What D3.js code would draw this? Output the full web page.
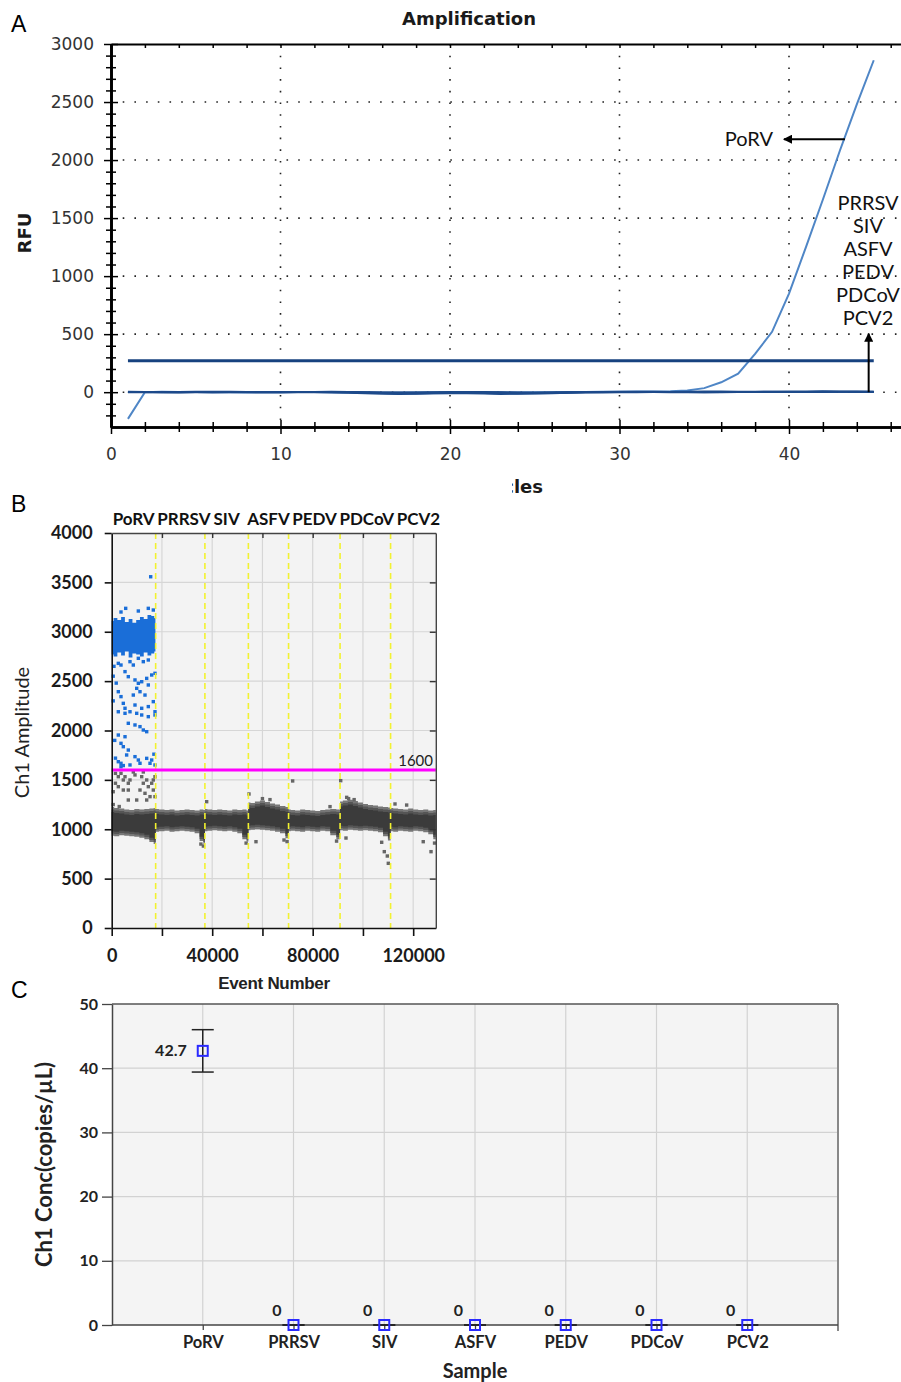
<!DOCTYPE html>
<html>
<head>
<meta charset="utf-8">
<script src="https://cdn.jsdelivr.net/npm/d3@7"></script>
<style>
  body { margin: 0; background: #fff; }
  svg { display: block; }
</style>
</head>
<body>
<svg id="fig" width="901" height="1382"></svg>
<script>
// ---------- Panel A: qPCR amplification ----------
const cycles = d3.range(1, 46);
const poRVRfu = [-230, 0, 3, 2, 1, 0, -1, -2, -1, 0, 1, 2, 0, -2, -4, -6, -5, -3, -2, -4, -6, -5, -3, -2, -1,
  0, 1, 2, 3, 4, 5, 6, 8, 15, 35, 85, 160, 330, 520, 850, 1250, 1660, 2080, 2480, 2860];
const negRfu = [
  [0, 2, 3, 1, 0, -2, -3, -1, 0, 2, 4, 3, 1, -1, -4, -8, -10, -9, -6, -3, -2, -4, -7, -9, -8, -5, -2, 0, 1, 2, 3, 2, 0, -1, -2, -3, -1, 1, 2, 3, 4, 5, 4, 3, 2],
  [0, 1, -1, -2, -1, 0, 1, 2, 1, 0, -1, -3, -5, -7, -12, -16, -18, -15, -10, -8, -11, -14, -17, -15, -12, -8, -6, -3, -1, 0, 1, 2, 1, 0, -1, 0, 1, 2, 1, 0, -1, 0, 1, 2, 3],
  [5, 4, 3, 4, 5, 6, 5, 4, 3, 2, 3, 4, 5, 4, 2, 0, -2, -1, 1, 3, 4, 3, 1, -1, -3, -2, 0, 2, 4, 5, 6, 5, 4, 6, 8, 7, 6, 5, 6, 7, 8, 9, 8, 7, 6],
  [-3, -2, -4, -5, -3, -2, -1, -3, -5, -4, -2, 0, -1, -3, -6, -9, -12, -13, -11, -9, -7, -9, -12, -14, -13, -10, -7, -5, -4, -3, -2, -1, -2, -3, -2, -1, 0, 1, 0, -1, 0, 1, 2, 1, 0],
  [2, 3, 2, 1, 2, 3, 4, 3, 2, 1, 0, 1, 2, 3, 1, -1, -3, -4, -2, 0, 1, 0, -2, -4, -3, -1, 1, 2, 3, 4, 3, 2, 3, 4, 3, 2, 3, 4, 5, 4, 3, 4, 5, 6, 5]
];
const thresholdRfu = 270;
const rfuTicks = [0, 500, 1000, 1500, 2000, 2500, 3000];
const cycleTicks = [0, 10, 20, 30, 40];
const negLabels = ["PRRSV", "SIV", "ASFV", "PEDV", "PDCoV", "PCV2"];

// ---------- Panel B: ddPCR droplets ----------
const samples = ["PoRV", "PRRSV", "SIV", "ASFV", "PEDV", "PDCoV", "PCV2"];
const wellEdges = [0, 17500, 37100, 54400, 70400, 90900, 111000, 129000];
const bandX = [0, 2000, 4000, 6000, 8000, 10000, 12000, 14000, 16000, 17400,
  17600, 20000, 22000, 24000, 26000, 28000, 30000, 32000, 34000, 36000, 37000,
  37200, 39000, 41000, 43000, 45000, 47000, 49000, 51000, 53000, 54300,
  54500, 56000, 58000, 60000, 62000, 64000, 66000, 68000, 70300,
  70500, 72000, 74000, 76000, 78000, 80000, 82000, 84000, 86000, 88000, 90800,
  91000, 93000, 95000, 97000, 99000, 101000, 103000, 105000, 107000, 109000, 110900,
  111100, 113000, 115000, 117000, 119000, 121000, 123000, 125000, 127000, 129000];
const bandHi = [1225, 1215, 1210, 1200, 1195, 1205, 1200, 1205, 1210, 1215,
  1205, 1200, 1195, 1200, 1190, 1195, 1200, 1195, 1190, 1200, 1195,
  1205, 1200, 1195, 1200, 1195, 1190, 1200, 1195, 1200, 1190,
  1270, 1265, 1280, 1290, 1275, 1260, 1250, 1235, 1225,
  1200, 1195, 1190, 1200, 1195, 1190, 1185, 1195, 1200, 1205, 1200,
  1280, 1290, 1300, 1285, 1270, 1255, 1245, 1240, 1230, 1225, 1220,
  1215, 1210, 1205, 1200, 1210, 1200, 1195, 1200, 1190, 1195, 1200];
const bandLo = [935, 930, 940, 935, 930, 925, 915, 900, 870, 850,
  975, 980, 985, 975, 980, 985, 980, 975, 960, 880, 850,
  980, 985, 990, 985, 980, 985, 975, 960, 900, 875,
  990, 995, 1000, 995, 990, 985, 975, 960, 910,
  980, 985, 980, 975, 985, 980, 975, 985, 980, 940, 900,
  990, 985, 995, 990, 985, 990, 985, 980, 970, 930, 885,
  980, 975, 985, 980, 975, 985, 980, 970, 950, 900, 875];
const posX = [0, 1500, 3000, 4500, 6000, 7500, 9000, 10500, 12000, 13500, 15000, 16500, 17400];
const posHi = [3110, 3140, 3120, 3150, 3100, 3130, 3090, 3120, 3150, 3130, 3170, 3160, 3140];
const posLo = [2770, 2750, 2790, 2760, 2800, 2740, 2780, 2770, 2750, 2790, 2760, 2780, 2800];
const posDrops = [
  [15520, 3557], [5570, 3237], [14570, 3237], [3700, 3200], [10600, 3210], [16560, 3220],
  [2630, 2680], [3700, 2663], [7280, 2697], [8600, 2663], [10600, 2731], [12580, 2697], [14570, 2714],
  [5300, 2596], [6610, 2545], [9270, 2512], [10600, 2478], [11940, 2494], [13930, 2528], [15920, 2562], [17230, 2579],
  [9950, 2427], [11260, 2393], [14570, 2461], [13250, 2359], [8600, 2359], [2630, 2393], [3700, 2343],
  [5300, 2225], [7280, 2190], [9270, 2258], [11940, 2225], [14570, 2242], [16560, 2292], [17230, 2190], [4620, 2275],
  [2630, 2190], [5300, 2174], [9950, 2174], [11940, 2157], [14570, 2140], [17230, 2157],
  [6610, 2073], [9270, 2056], [11260, 2039], [12580, 2005], [13930, 1988],
  [2630, 1954], [5300, 1937], [3700, 1870], [4620, 1836], [6610, 1802], [5950, 1752], [9270, 1735],
  [10600, 1701], [13930, 1718], [15920, 1701], [2630, 1684], [3700, 1668], [7280, 1651], [11260, 1668],
  [15250, 1668], [17230, 1651], [3700, 1633], [4620, 1645], [1500, 1720], [1200, 1900], [600, 2300],
  [900, 2650], [16800, 1760], [600, 2550], [1800, 2480]
];
const negDrops = [
  [1500, 1566], [2630, 1532], [3700, 1566], [4620, 1499], [5300, 1532], [6610, 1466], [7280, 1499],
  [2630, 1431], [4620, 1397], [6610, 1397], [1500, 1466], [11940, 1532], [12580, 1466], [13930, 1499],
  [14570, 1431], [15920, 1466], [16560, 1397], [17230, 1532], [13250, 1364], [15250, 1330], [11260, 1397],
  [9950, 1296], [6610, 1296], [13930, 1296], [16560, 1499], [9270, 1550], [8600, 1580], [12580, 1580],
  [600, 1380], [600, 1250], [3000, 1230], [17230, 1330],
  [37800, 1279], [54650, 1357], [57430, 874], [68580, 891], [72030, 1489], [86900, 1229], [91150, 1492],
  [93530, 1323], [94300, 1310], [96500, 1300], [93250, 911], [107460, 868], [108500, 773], [109700, 729],
  [110100, 655], [112760, 1256], [117400, 1245], [124000, 874], [127100, 773], [36500, 830], [35500, 850],
  [53500, 860], [69800, 875], [89500, 880], [128500, 860], [63000, 1300], [60000, 1310]
];
const ampThreshold = 1600;
const ampTicks = [0, 500, 1000, 1500, 2000, 2500, 3000, 3500, 4000];
const eventTicks = [0, 20000, 40000, 60000, 80000, 100000, 120000];

// ---------- Panel C: concentration ----------
const conc = [42.7, 0, 0, 0, 0, 0, 0];
const concLo = [39.4, 0, 0, 0, 0, 0, 0];
const concHi = [46.0, 0, 0, 0, 0, 0, 0];
const concTicks = [0, 10, 20, 30, 40, 50];

const plain = d3.format("d");
const svg = d3.select("#fig");
svg.append("rect").attr("width", 901).attr("height", 1382).attr("fill", "#fff");

// panel letters
svg.selectAll("text.panel")
  .data([["A", 32], ["B", 512], ["C", 998]])
  .join("text")
  .attr("x", 11).attr("y", d => d[1])
  .attr("font-family", "Liberation Sans, Arial, sans-serif")
  .attr("font-size", 23)
  .text(d => d[0]);

// ================= Panel A =================
const xA = d3.scaleLinear().domain([0, 50]).range([111, 111 + 50 * 16.95]);
const yA = d3.scaleLinear().domain([-300, 3000]).range([427, 44]);
const gA = svg.append("g");

// dotted grid
gA.selectAll("line.vg").data([10, 20, 30, 40]).join("line")
  .attr("x1", d => xA(d)).attr("x2", d => xA(d)).attr("y1", 44).attr("y2", 427)
  .attr("stroke", "#222").attr("stroke-width", 1.6).attr("stroke-dasharray", "1.6,10.1");
gA.selectAll("line.hg").data(rfuTicks.filter(d => d < 3000)).join("line")
  .attr("x1", 111).attr("x2", 901).attr("y1", d => yA(d)).attr("y2", d => yA(d))
  .attr("stroke", "#222").attr("stroke-width", 1.6).attr("stroke-dasharray", "1.6,10.1");

const lineA = d3.line().x((d, i) => xA(cycles[i])).y(d => yA(d));
gA.append("path").datum(poRVRfu).attr("d", lineA)
  .attr("fill", "none").attr("stroke", "#4f86c6").attr("stroke-width", 2);
negRfu.forEach(s => {
  gA.append("path").datum(s).attr("d", lineA)
    .attr("fill", "none").attr("stroke", "#1d4a8a").attr("stroke-width", 1.6);
});
gA.append("line")
  .attr("x1", xA(cycles[0])).attr("x2", xA(cycles[cycles.length - 1]))
  .attr("y1", yA(thresholdRfu)).attr("y2", yA(thresholdRfu))
  .attr("stroke", "#17427f").attr("stroke-width", 3);

// axes (ticks crossing the axis line)
const minorY = d3.range(-200, 3000, 100).filter(v => v % 500 !== 0);
const minorX = d3.range(2, 50, 2).filter(v => v % 10 !== 0);
function styleAxis(g, w) {
  g.select(".domain").attr("stroke", "#000").attr("stroke-width", w);
  g.selectAll(".tick line").attr("stroke", "#000").attr("stroke-width", 1.5);
}
const yAout = gA.append("g").attr("transform", "translate(111,0)")
  .call(d3.axisLeft(yA).tickValues(rfuTicks).tickFormat(plain).tickSize(7).tickSizeOuter(0).tickPadding(10));
styleAxis(yAout, 2.2);
yAout.selectAll("text").attr("font-family", "DejaVu Sans, sans-serif").attr("font-size", 17).attr("fill", "#333");
[d3.axisRight(yA).tickValues(rfuTicks).tickSize(7),
 d3.axisLeft(yA).tickValues(minorY).tickSize(5),
 d3.axisRight(yA).tickValues(minorY).tickSize(5)].forEach(ax => {
  const g = gA.append("g").attr("transform", "translate(111,0)").call(ax.tickFormat("").tickSizeOuter(0));
  styleAxis(g, 2.2);
});
const xAout = gA.append("g").attr("transform", "translate(0,427)")
  .call(d3.axisBottom(xA).tickValues(cycleTicks).tickFormat(plain).tickSize(7).tickSizeOuter(0).tickPadding(14));
styleAxis(xAout, 2.2);
xAout.selectAll("text").attr("font-family", "DejaVu Sans, sans-serif").attr("font-size", 17).attr("fill", "#333");
[d3.axisTop(xA).tickValues(cycleTicks).tickSize(7),
 d3.axisBottom(xA).tickValues(minorX).tickSize(5),
 d3.axisTop(xA).tickValues(minorX).tickSize(5)].forEach(ax => {
  const g = gA.append("g").attr("transform", "translate(0,427)").call(ax.tickFormat("").tickSizeOuter(0));
  styleAxis(g, 2.2);
});
// top border with small inward ticks
const topA = gA.append("g").attr("transform", "translate(0,44)")
  .call(d3.axisBottom(xA).tickValues(d3.range(0, 50, 2)).tickSize(4).tickFormat("").tickSizeOuter(0));
styleAxis(topA, 2.2);

// labels
gA.append("text").attr("x", 469).attr("y", 25).attr("text-anchor", "middle")
  .attr("font-family", "DejaVu Sans, sans-serif").attr("font-weight", "bold").attr("font-size", 18)
  .attr("fill", "#1a1a1a").text("Amplification");
gA.append("text").attr("transform", "translate(31,233) rotate(-90)").attr("text-anchor", "middle")
  .attr("font-family", "DejaVu Sans, sans-serif").attr("font-weight", "bold").attr("font-size", 18)
  .attr("fill", "#1a1a1a").text("RFU");
svg.append("clipPath").attr("id", "cycClip").append("rect")
  .attr("x", 512).attr("y", 460).attr("width", 100).attr("height", 40);
gA.append("text").attr("x", 543).attr("y", 493).attr("text-anchor", "end")
  .attr("clip-path", "url(#cycClip)")
  .attr("font-family", "DejaVu Sans, sans-serif").attr("font-weight", "bold").attr("font-size", 18)
  .attr("fill", "#1a1a1a").text("Cycles");

// annotations
const annFont = "Lato, Carlito, sans-serif";
svg.append("defs").append("marker").attr("id", "arrowHead")
  .attr("viewBox", "0 0 10 10").attr("refX", 9).attr("refY", 5)
  .attr("markerWidth", 4.5).attr("markerHeight", 4.5).attr("orient", "auto")
  .append("path").attr("d", "M0,0 L10,5 L0,10 Z").attr("fill", "#000");
const arrowY = yA(2180);
gA.append("line").attr("x1", xA(43.3)).attr("x2", xA(39.7))
  .attr("y1", arrowY).attr("y2", arrowY)
  .attr("stroke", "#000").attr("stroke-width", 2).attr("marker-end", "url(#arrowHead)");
gA.append("text").attr("x", 773).attr("y", arrowY + 7).attr("text-anchor", "end")
  .attr("font-family", annFont).attr("font-size", 20).attr("fill", "#111").text("PoRV");
gA.append("line").attr("x1", xA(44.7)).attr("x2", xA(44.7))
  .attr("y1", yA(0)).attr("y2", yA(505))
  .attr("stroke", "#000").attr("stroke-width", 2).attr("marker-end", "url(#arrowHead)");
gA.selectAll("text.neg").data(negLabels).join("text")
  .attr("x", 868).attr("y", (d, i) => 210 + i * 23).attr("text-anchor", "middle")
  .attr("font-family", annFont).attr("font-size", 20).attr("fill", "#111").text(d => d);

// ================= Panel B =================
const xB = d3.scaleLinear().domain([0, 129000]).range([111.7, 435.8]);
const yB = d3.scaleLinear().domain([0, 4000]).range([928, 533]);
const gB = svg.append("g");
gB.append("rect").attr("x", xB(0)).attr("y", yB(4000))
  .attr("width", xB(129000) - xB(0)).attr("height", yB(0) - yB(4000)).attr("fill", "#f3f3f3");
gB.selectAll("line.vg").data(eventTicks.slice(1)).join("line")
  .attr("x1", d => xB(d)).attr("x2", d => xB(d)).attr("y1", yB(4000)).attr("y2", yB(0))
  .attr("stroke", "#d6d6d6").attr("stroke-width", 1.2);
gB.selectAll("line.hg").data(ampTicks.slice(1, -1)).join("line")
  .attr("x1", xB(0)).attr("x2", xB(129000)).attr("y1", d => yB(d)).attr("y2", d => yB(d))
  .attr("stroke", "#d6d6d6").attr("stroke-width", 1.2);

// negative droplet band (outer, middle, core)
const band = bandX.map((x, i) => ({ x, hi: bandHi[i], lo: bandLo[i] }));
[[0, 0, "#777"], [22, 25, "#555"], [45, 50, "#3b3b3b"]].forEach(([dl, dh, c]) => {
  gB.append("path").datum(band)
    .attr("d", d3.area().curve(d3.curveStep).x(d => xB(d.x))
      .y0(d => yB(d.lo + dl)).y1(d => yB(d.hi - dh)))
    .attr("fill", c);
});
gB.selectAll("rect.neg").data(negDrops).join("rect")
  .attr("x", d => xB(d[0]) - 1.7).attr("y", d => yB(d[1]) - 1.7)
  .attr("width", 3.4).attr("height", 3.4).attr("fill", "#666");

// positive droplets
const pos = posX.map((x, i) => ({ x, hi: posHi[i], lo: posLo[i] }));
gB.append("path").datum(pos)
  .attr("d", d3.area().curve(d3.curveStep).x(d => xB(d.x)).y0(d => yB(d.lo)).y1(d => yB(d.hi)))
  .attr("fill", "#1a6ed8");
gB.selectAll("rect.pos").data(posDrops).join("rect")
  .attr("x", d => xB(d[0]) - 1.7).attr("y", d => yB(d[1]) - 1.7)
  .attr("width", 3.4).attr("height", 3.4).attr("fill", "#1a6ed8");

// well separators
gB.selectAll("line.well").data(wellEdges.slice(1, -1)).join("line")
  .attr("x1", d => xB(d)).attr("x2", d => xB(d)).attr("y1", yB(4000)).attr("y2", yB(0))
  .attr("stroke", "#f2f230").attr("stroke-width", 1.6).attr("stroke-dasharray", "6,4");

// threshold
gB.append("line").attr("x1", xB(0)).attr("x2", xB(129000))
  .attr("y1", yB(ampThreshold)).attr("y2", yB(ampThreshold))
  .attr("stroke", "#ff00ff").attr("stroke-width", 3);
gB.append("text").attr("x", 433).attr("y", yB(ampThreshold) - 4).attr("text-anchor", "end")
  .attr("font-family", annFont).attr("font-size", 15).attr("fill", "#222").text(ampThreshold);

// axes
const bFont = "Lato, Carlito, sans-serif";
const yBax = gB.append("g").attr("transform", `translate(${xB(0)},0)`)
  .call(d3.axisLeft(yB).tickValues(ampTicks).tickFormat(plain).tickSize(7).tickSizeOuter(0).tickPadding(12));
const xBax = gB.append("g").attr("transform", `translate(0,${yB(0)})`)
  .call(d3.axisBottom(xB).tickValues(eventTicks).tickSize(8).tickSizeOuter(0).tickPadding(13)
    .tickFormat(d => d % 40000 === 0 ? plain(d) : ""));
const topB = gB.append("g").attr("transform", `translate(0,${yB(4000)})`)
  .call(d3.axisBottom(xB).tickValues(eventTicks.slice(1)).tickSize(5).tickSizeOuter(0).tickFormat(""));
const rightB = gB.append("g").attr("transform", `translate(${xB(129000)},0)`)
  .call(d3.axisLeft(yB).tickValues(ampTicks.slice(1, -1)).tickSize(6).tickSizeOuter(0).tickFormat(""));
[yBax, xBax].forEach(g => {
  g.select(".domain").attr("stroke", "#111").attr("stroke-width", 1.6);
  g.selectAll(".tick line").attr("stroke", "#111").attr("stroke-width", 1.6);
  g.selectAll("text").attr("font-family", bFont).attr("font-weight", "bold")
    .attr("font-size", 18).attr("fill", "#1a1a1a");
});
[topB, rightB].forEach(g => {
  g.select(".domain").attr("stroke", "#444").attr("stroke-width", 1.4);
  g.selectAll(".tick line").attr("stroke", "#333").attr("stroke-width", 1.4);
});
gB.append("text").attr("x", 274).attr("y", 989).attr("text-anchor", "middle")
  .attr("font-family", "Liberation Sans, Arial, sans-serif").attr("font-weight", "bold")
  .attr("font-size", 17).attr("fill", "#222").attr("letter-spacing", -0.3).text("Event Number");
gB.append("text").attr("transform", `translate(29,${(yB(0) + yB(4000)) / 2 + 2}) rotate(-90)`)
  .attr("text-anchor", "middle").attr("font-family", bFont).attr("font-size", 20)
  .attr("fill", "#222").text("Ch1 Amplitude");

// sample names above wells, pushed apart so they don't collide
const sLabels = gB.selectAll("text.sample").data(samples).join("text")
  .attr("y", 525).attr("text-anchor", "middle")
  .attr("font-family", bFont).attr("font-weight", "bold").attr("font-size", 17)
  .attr("fill", "#111").text(d => d);
let rightEdge = -Infinity;
sLabels.each(function (d, i) {
  const w = this.getComputedTextLength();
  let cx = xB((wellEdges[i] + wellEdges[i + 1]) / 2);
  if (cx - w / 2 < rightEdge + 2.5) cx = rightEdge + 2.5 + w / 2;
  d3.select(this).attr("x", cx);
  rightEdge = cx + w / 2;
});

// ================= Panel C =================
const xC = d3.scalePoint().domain(samples).range([112, 838]).padding(1);
const yC = d3.scaleLinear().domain([0, 50]).range([1325, 1004]);
const gC = svg.append("g");
gC.append("rect").attr("x", 112).attr("y", yC(50)).attr("width", 838 - 112)
  .attr("height", yC(0) - yC(50)).attr("fill", "#f4f4f4");
gC.selectAll("line.vg").data(samples).join("line")
  .attr("x1", d => xC(d)).attr("x2", d => xC(d)).attr("y1", yC(50)).attr("y2", yC(0))
  .attr("stroke", "#d2d2d2").attr("stroke-width", 1.2);
gC.selectAll("line.hg").data(concTicks.slice(1, -1)).join("line")
  .attr("x1", 112).attr("x2", 838).attr("y1", d => yC(d)).attr("y2", d => yC(d))
  .attr("stroke", "#d2d2d2").attr("stroke-width", 1.2);
// borders
gC.append("line").attr("x1", 112).attr("x2", 838).attr("y1", yC(50)).attr("y2", yC(50))
  .attr("stroke", "#555").attr("stroke-width", 1.5);
gC.append("line").attr("x1", 838).attr("x2", 838).attr("y1", yC(50)).attr("y2", yC(0) + 6)
  .attr("stroke", "#888").attr("stroke-width", 2);

const cFont = "Lato, Carlito, sans-serif";
const yCax = gC.append("g").attr("transform", "translate(112,0)")
  .call(d3.axisLeft(yC).tickValues(concTicks).tickSize(10).tickSizeOuter(0).tickPadding(4));
const xCax = gC.append("g").attr("transform", `translate(0,${yC(0)})`)
  .call(d3.axisBottom(xC).tickSize(5).tickSizeOuter(0).tickPadding(6));
xCax.select(".domain").attr("d", `M112,0H838`);
[yCax, xCax].forEach(g => {
  g.select(".domain").attr("stroke", "#444").attr("stroke-width", 1.5);
  g.selectAll(".tick line").attr("stroke", "#444").attr("stroke-width", 1.3);
  g.selectAll("text").attr("font-family", cFont).attr("font-weight", "bold")
    .attr("font-size", 16.5).attr("fill", "#222");
});
yCax.selectAll("text").attr("font-size", 16);

// error bars + markers
const pts = samples.map((s, i) => ({ s, v: conc[i], lo: concLo[i], hi: concHi[i] }));
const capW = 11;
gC.selectAll("line.eb").data(pts).join("line")
  .attr("x1", d => xC(d.s)).attr("x2", d => xC(d.s))
  .attr("y1", d => yC(d.lo)).attr("y2", d => yC(d.hi))
  .attr("stroke", "#222").attr("stroke-width", 1.5);
["lo", "hi"].forEach(k => {
  gC.selectAll("line.cap" + k).data(pts).join("line")
    .attr("x1", d => xC(d.s) - capW).attr("x2", d => xC(d.s) + capW)
    .attr("y1", d => yC(d[k])).attr("y2", d => yC(d[k]))
    .attr("stroke", "#222").attr("stroke-width", 1.5);
});
gC.selectAll("rect.pt").data(pts).join("rect")
  .attr("x", d => xC(d.s) - 5).attr("y", d => yC(d.v) - 5)
  .attr("width", 10).attr("height", 10)
  .attr("fill", "none").attr("stroke", "#2a2aff").attr("stroke-width", 2);
gC.selectAll("text.val").data(pts).join("text")
  .attr("x", d => d.v > 0 ? xC(d.s) - 16 : xC(d.s) - 16.5)
  .attr("y", d => d.v > 0 ? yC(d.v) + 5 : yC(d.v) - 9)
  .attr("text-anchor", d => d.v > 0 ? "end" : "middle")
  .attr("font-family", cFont).attr("font-weight", "bold")
  .attr("font-size", 16).attr("fill", "#222")
  .text(d => d.v);

gC.append("text").attr("x", 475).attr("y", 1378).attr("text-anchor", "middle")
  .attr("font-family", cFont).attr("font-weight", "bold").attr("font-size", 20)
  .attr("fill", "#222").text("Sample");
gC.append("text").attr("transform", `translate(52,${(yC(0) + yC(50)) / 2}) rotate(-90)`)
  .attr("text-anchor", "middle").attr("font-family", cFont).attr("font-weight", "bold")
  .attr("font-size", 22).attr("fill", "#222").text("Ch1 Conc(copies/µL)");
</script>
</body>
</html>
